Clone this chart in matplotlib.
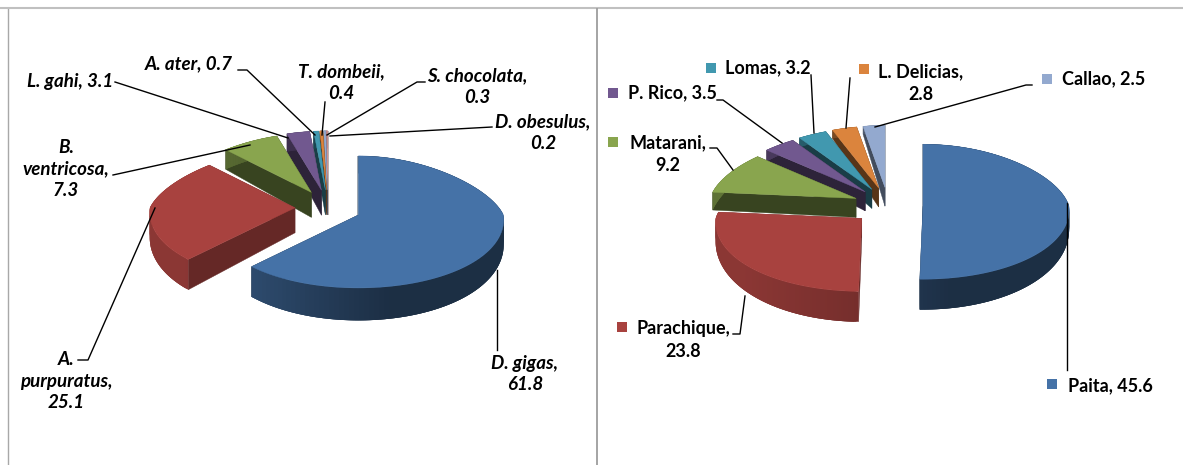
import numpy as np
import matplotlib
matplotlib.use("Agg")
import matplotlib.pyplot as plt
from matplotlib.collections import PolyCollection
from matplotlib.colors import to_rgb

plt.rcParams['font.family'] = ['Lato', 'DejaVu Sans']

# datos
species_vals = [61.8, 25.1, 7.3, 3.1, 0.7, 0.4, 0.3, 0.2]
city_vals = [45.6, 23.8, 9.2, 3.5, 3.2, 2.8, 2.5]
left_text = ["D. gigas,\n61.8", "A.\npurpuratus,\n25.1", "B.\nventricosa,\n7.3", "L. gahi, 3.1",
             "A. ater, 0.7", "T. dombeii,\n0.4", "S. chocolata,\n0.3", "D. obesulus,\n0.2"]
right_text = ["Paita, 45.6", "Parachique,\n23.8", "Matarani,\n9.2", "P. Rico, 3.5", "Lomas, 3.2",
              "L. Delicias,\n2.8", "Callao, 2.5"]
top_colors = ["#4572A7", "#A8423F", "#89A54E", "#71588F", "#4198AF", "#DB843D", "#93A9CF", "#D19392"]
dark_f = [0.41, 0.60, 0.41, 0.40, 0.40, 0.40, 0.45, 0.45]
light_f = [0.78, 0.83, 0.70, 0.70, 0.70, 0.70, 0.70, 0.70]


def mix(c, f):
    return np.array(to_rgb(c)) * f


def project(xu, tu, p):
    # perspectiva sencilla, t > 0 es el fondo
    k = np.where(tu > 0, p["kx_back"], p["kx_front"])
    xs = p["rx"] * xu * (1 - k * tu)
    ys = np.where(tu > 0, -p["ry_back"] * tu, -p["ry_front"] * tu)
    return xs, ys


def depth(tu, p):
    return p["d0"] * (1 - p["kd"] * tu)


def draw_pie(ax, values, p):
    total = sum(values)
    edges = np.concatenate([[0], np.cumsum(values)]) / total * 2 * np.pi
    # de atras hacia adelante
    for i in range(len(values) - 1, -1, -1):
        z = 10 + 4 * (len(values) - i)
        a0, a1 = edges[i], edges[i + 1]
        mid = (a0 + a1) / 2
        ax0 = p["cx"] + p["explode"] * np.sin(mid)
        ay0 = p["cy"] - p["explode"] * p["fy"] * np.cos(mid)
        ang = np.linspace(a0, a1, 120)
        xs, ys = project(np.sin(ang), np.cos(ang), p)
        xs, ys = xs + ax0, ys + ay0
        ds = depth(np.cos(ang), p)
        da = depth(0.0, p)
        base = top_colors[i]
        # caras de corte
        for j in (0, -1):
            ax.fill([ax0, xs[j], xs[j], ax0], [ay0, ys[j], ys[j] + ds[j], ay0 + da],
                    color=mix(base, dark_f[i]), lw=0.3, zorder=z)
        # pared exterior con degradado, tiras solapadas para que no se vean costuras
        polys, cols = [], []
        n = len(ang)
        for k in range(n - 1):
            e = min(k + 3, n - 1)
            polys.append([(xs[k], ys[k]), (xs[k:e + 1][-1], ys[e]),
                          (xs[e], ys[e] + ds[e]), (xs[k], ys[k] + ds[k])])
            frac = np.clip((xs[k] - p["cx"] + p["rx"]) / (2 * p["rx"]), 0, 1)
            cols.append(mix(base, light_f[i] + (dark_f[i] - light_f[i]) * min(frac * 1.4, 1)))
        ax.add_collection(PolyCollection(polys, facecolors=cols, edgecolors="none", zorder=z + 2))
        ax.fill(np.r_[ax0, xs], np.r_[ay0, ys], color=base, lw=0.3, zorder=z + 3)


fig = plt.figure(figsize=(11.83, 4.65), dpi=100)
ax = fig.add_axes([0, 0, 1, 1])
ax.set_xlim(0, 1183)
ax.set_ylim(465, 0)
ax.axis("off")

left = dict(cx=328, cy=208, explode=33, fy=0.55, rx=145, ry_back=59, ry_front=73,
            kx_back=0.2, kx_front=0.06, d0=25, kd=0.3)
right = dict(cx=888, cy=206, explode=35, fy=0.534, rx=146, ry_back=62, ry_front=73,
             kx_back=0.13, kx_front=0.05, d0=19, kd=0.6)
draw_pie(ax, species_vals, left)
draw_pie(ax, city_vals, right)

# marco
ax.plot([8, 8], [9, 465], color="#a8a8a8", lw=1.0, zorder=1)
ax.plot([0, 1183], [8.5, 8.5], color="#c0c0c0", lw=1.5, zorder=1)
ax.plot([597, 597], [9, 465], color="#8c8c8c", lw=1.1, zorder=1)

# lineas guia
leaders = [
    [(238, 70), (247, 70), (315, 135)],
    [(115, 82), (288, 138)],
    [(325, 102), (322, 135)],
    [(425, 82), (417, 82), (327, 135)],
    [(492, 127), (330, 136)],
    [(113, 175), (250, 145)],
    [(78, 360), (88, 360), (155, 208)],
    [(497, 270), (497, 350)],
    [(811, 75), (814, 133)],
    [(850, 78), (846, 128)],
    [(1032, 85), (1026, 85), (875, 127)],
    [(717, 100), (723, 100), (782, 143)],
    [(710, 148), (717, 148), (733, 170)],
    [(733, 334), (740, 334), (745, 296)],
    [(1067, 203), (1067, 370)],
]
for pts in leaders:
    ax.plot(*zip(*pts), color="black", lw=1.0, zorder=60)

# etiquetas izquierda
left_pos = [(525, 374), (66, 381), (66, 169), (70, 82), (189, 64), (341, 83), (477, 87), (543, 133)]
for txt, (x, y) in zip(left_text, left_pos):
    ax.text(x, y, txt, ha="center", va="center", fontsize=13.5, fontweight="bold",
            fontstyle="italic", linespacing=1.35, zorder=70)

# etiquetas derecha
right_pos = [(1110, 386), (683, 340), (668, 154), (672, 93), (768, 68), (921, 83), (1104, 79)]
right_key = [(1052, 384), (622, 327), (613, 142), (613, 93), (711, 68), (864, 69), (1047, 79)]
for i, (txt, (x, y), (kx, ky)) in enumerate(zip(right_text, right_pos, right_key)):
    ax.text(x, y, txt, ha="center", va="center", fontsize=13, fontweight="bold",
            linespacing=1.4, zorder=70)
    ax.scatter([kx], [ky], marker="s", s=62, color=top_colors[i], linewidths=0, zorder=70)

fig.savefig("out.png", dpi=100)
